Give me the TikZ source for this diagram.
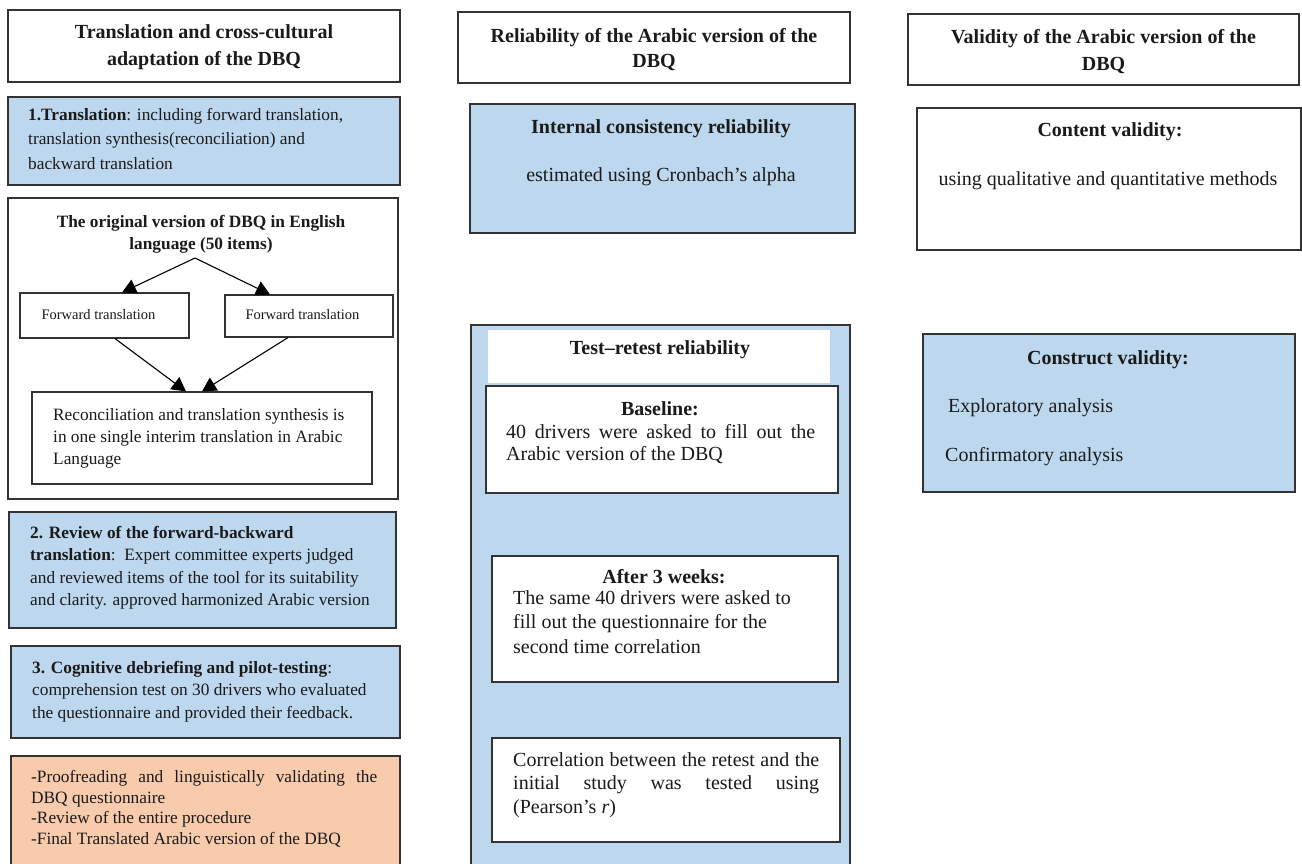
\documentclass[tikz,border=0pt]{standalone}
\usepackage{fontspec}
\setmainfont{Liberation Serif}
\usepackage{xcolor}
\usepackage{tikz}
\usetikzlibrary{arrows.meta,fit}

\definecolor{paleblue}{HTML}{BDD7EE}
\definecolor{peachfill}{HTML}{F8CBAD}
\definecolor{edge}{HTML}{333333}
\definecolor{ink}{HTML}{1A1A1A}

\begin{document}
\begin{tikzpicture}[
    x=1pt, y=-1pt,
    every node/.style={inner sep=0pt, text=ink},
    boxline/.style={draw=edge, line width=1.3pt},
    hdrbox/.style={boxline, fill=white},
    hdrtxt/.style={anchor=north, align=center, font=\fontsize{20}{27}\selectfont\bfseries},
    bluebox/.style={boxline, fill=paleblue},
    whitebox/.style={boxline, fill=white},
    peachbox/.style={boxline, fill=peachfill},
    body/.style={anchor=north west, align=left, font=\fontsize{17.3}{22.5}\selectfont},
    big/.style={anchor=base, font=\fontsize{20}{24}\selectfont},
    bighd/.style={anchor=base, font=\fontsize{20}{24}\selectfont\bfseries},
    small/.style={anchor=base, font=\fontsize{14.5}{17}\selectfont},
    arr/.style={-{Triangle[length=14pt,width=15pt]}, line width=1.1pt, black}
]
\useasboundingbox (0,0) rectangle (1302,863);
\clip (0,0) rectangle (1302,863);

% Column headers
\node[hdrbox, fit={(8,10) (400,82)}] (hdrtrans) {};
\node[hdrtxt] (hdrtranstx) at (204,24.5) {Translation and cross-cultural\\adaptation of the DBQ};
\node[hdrbox, fit={(458,12) (850,83)}] (hdrrel) {};
\node[hdrtxt, font=\fontsize{20}{25}\selectfont\bfseries] (hdrreltx) at (654,28) {Reliability of the Arabic version of the\\DBQ};
\node[hdrbox, fit={(908,14) (1299,85)}] (hdrval) {};
\node[hdrtxt] (hdrvaltx) at (1103.5,29.5) {Validity of the Arabic version of the\\DBQ};

% Left column: translation steps
\node[bluebox, fit={(8,97) (400,185)}] (trans) {};
\node[body, font=\fontsize{17.3}{24.5}\selectfont] (transtx) at (28,108) {\textbf{1.Translation}: including forward translation,\\translation synthesis(reconciliation) and\\backward translation};

\node[whitebox, fit={(8,198) (398,499)}] (orig) {};
\node[anchor=north, align=center, font=\fontsize{17.3}{22.5}\selectfont\bfseries] (origtx) at (201,215) {The original version of DBQ in English\\language (50 items)};
\coordinate (split) at (195,258);
\node[whitebox, line width=1.1pt, fit={(20,293) (189,338)}] (fwdl) {};
\node[small] (fwdltx) at (98.5,319) {Forward translation};
\node[whitebox, line width=1.1pt, fit={(225,295) (393,337)}] (fwdr) {};
\node[small] (fwdrtx) at (302.5,319) {Forward translation};
\node[whitebox, line width=1.1pt, fit={(32,392) (372,484)}] (recon) {};
\node[body, font=\fontsize{17.3}{22}\selectfont] (recontx) at (53,408) {Reconciliation and translation synthesis is\\in one single interim translation in Arabic\\Language};

\draw[arr] (split) -- ([xshift=17.5pt]fwdl.north);
\draw[arr] (split) -- ([xshift=-39pt]fwdr.north);
\draw[arr] ([xshift=10.5pt]fwdl.south) -- ([xshift=-16pt]recon.north);
\draw[arr] ([xshift=-21pt]fwdr.south) -- ([xshift=0pt]recon.north);

\node[bluebox, fit={(9,512) (396,628)}] (review) {};
\node[body] (reviewtx) at (30,526) {\textbf{2. Review of the forward-backward}\\\textbf{translation}:\ \ Expert committee experts judged\\and reviewed items of the tool for its suitability\\and clarity. approved harmonized Arabic version};

\node[bluebox, fit={(11,646) (400,738)}] (cogn) {};
\node[body] (cogntx) at (32,661) {\textbf{3. Cognitive debriefing and pilot-testing}:\\comprehension test on 30 drivers who evaluated\\the questionnaire and provided their feedback.};

\node[peachbox, fit={(11,756) (400,880)}] (final) {};
\node[body, align=justify, text width=346, font=\fontsize{17.3}{20.7}\selectfont] (finaltx) at (31,770) {-Proofreading and linguistically validating the\linebreak DBQ questionnaire\\-Review of the entire procedure\\-Final Translated Arabic version of the DBQ};

% Middle column: reliability
\node[bluebox, fit={(470,104) (855,233)}] (intcons) {};
\node[bighd] (intconshd) at (661,133) {Internal consistency reliability};
\node[big] (intconstx) at (661,181.5) {estimated using Cronbach's alpha};

\node[bluebox, fit={(471,325) (850,880)}] (retest) {};
\node[fill=white, fit={(488,330) (830,383)}] (band) {};
\node[bighd] (retesthd) at (660,354) {Test--retest reliability};

\node[whitebox, fit={(486,386) (838,493)}] (base) {};
\node[bighd] (basehd) at (660,415) {Baseline:};
\node[body, align=justify, text width=309, font=\fontsize{20}{22}\selectfont] (basetx) at (506,424) {40 drivers were asked to fill out the\linebreak Arabic version of the DBQ};

\node[whitebox, fit={(492,556) (838,682)}] (after) {};
\node[bighd] (afterhd) at (664,583) {After 3 weeks:};
\node[body, font=\fontsize{20}{24.5}\selectfont] (aftertx) at (513,590) {The same 40 drivers were asked to\\fill out the questionnaire for the\\second time correlation};

\node[whitebox, fit={(492,738) (840,842)}] (corr) {};
\node[body, align=justify, text width=306, font=\fontsize{20}{23.5}\selectfont] (corrtx) at (513,752) {Correlation between the retest and the\linebreak initial study was tested using\linebreak (Pearson's \textit{r})};

% Right column: validity
\node[whitebox, fit={(917,108) (1301,250)}] (content) {};
\node[bighd] (contenthd) at (1110,136.7) {Content validity:};
\node[big] (contenttx) at (1108,185) {using qualitative and quantitative methods};

\node[bluebox, fit={(923,334) (1295,492)}] (construct) {};
\node[bighd] (constructhd) at (1108,364) {Construct validity:};
\node[big, anchor=base west] (explor) at (948,412.7) {Exploratory analysis};
\node[big, anchor=base west] (confirm) at (945,461.7) {Confirmatory analysis};

\end{tikzpicture}
\end{document}
